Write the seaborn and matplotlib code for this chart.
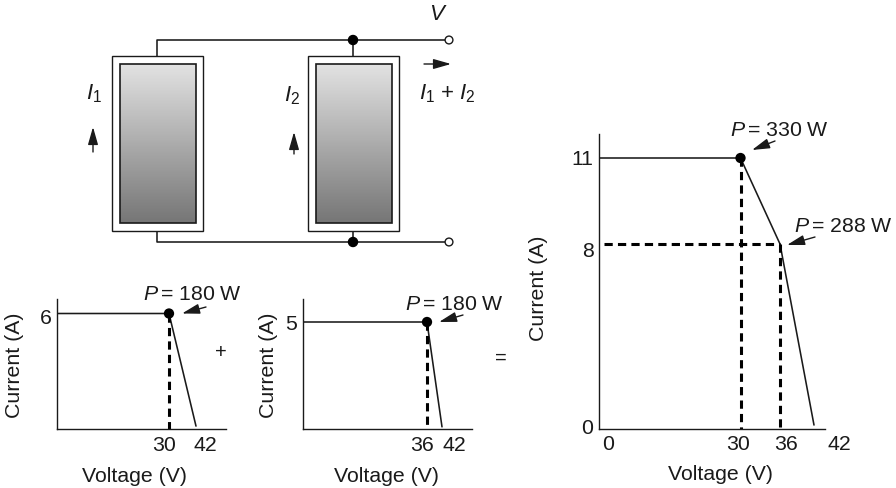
import numpy as np
import matplotlib
matplotlib.use('Agg')
import matplotlib.pyplot as plt
import matplotlib.transforms as mtrans
from matplotlib.patches import Rectangle, Circle
import seaborn as sns

W, H = 896, 489
INK = '#1a1a1a'

# left module
left_volts = [0, 30, 42]
left_amps = [6, 6, 0.15]
left_mpp = (30, 6)
left_xticks = [30, 42]
left_yticks = [6]

# middle module
mid_volts = [0, 36, 42]
mid_amps = [5, 5, 0.1]
mid_mpp = (36, 5)
mid_xticks = [36, 42]
mid_yticks = [5]

# parallel combination
sum_volts = [0, 30, 36, 42]
sum_amps = [11, 11, 8, 0.15]
sum_mpp = (30, 11)
sum_knee = (36, 8)
sum_xticks = [0, 30, 36, 42]
sum_yticks = [0, 8, 11]

sns.set_style('white')
plt.rcParams['font.family'] = ['Liberation Sans', 'DejaVu Sans']
plt.rcParams['font.size'] = 15.3
plt.rcParams['text.color'] = INK
plt.rcParams['mathtext.fontset'] = 'custom'
plt.rcParams['mathtext.rm'] = 'Liberation Sans'
plt.rcParams['mathtext.it'] = 'Liberation Sans:italic'

fig = plt.figure(figsize=(W / 100, H / 100), dpi=100)

# full figure layer in pixel coords for the circuit and the callouts
bg = fig.add_axes([0, 0, 1, 1])
bg.axis('off')


def wire(xs, ys):
    bg.plot(xs, ys, color=INK, lw=1.15, solid_capstyle='butt')


def small_arrow(tail, tip, lw=1.0):
    bg.annotate('', xy=tip, xytext=tail,
                arrowprops=dict(arrowstyle='-|>,head_length=0.7,head_width=0.2',
                                color=INK, lw=lw, shrinkA=0, shrinkB=0))


gradient = np.linspace(0, 1, 128).reshape(-1, 1)
panel_cmap = matplotlib.colors.LinearSegmentedColormap.from_list('panel', ['#e2e2e2', '#767676'])
for x0, x1 in [(112, 203), (308, 399)]:
    bg.add_patch(Rectangle((x0, 57), x1 - x0, 175, fill=False, ec=INK, lw=1.0))
    bg.imshow(gradient, extent=(x0 + 7.5, x1 - 7.5, 224, 65), cmap=panel_cmap,
              aspect='auto', origin='upper')
    bg.add_patch(Rectangle((x0 + 7.5, 65), x1 - x0 - 15, 159, fill=False, ec=INK, lw=1.2))

wire([157, 157, 445], [57, 41, 41])
wire([157, 157, 445], [232, 243, 243])
wire([353, 353], [41, 57])
wire([353, 353], [232, 243])
for y in [41, 243]:
    bg.add_patch(Circle((353, y), 4.5, color='black', zorder=4))
    bg.add_patch(Circle((449, y), 3.9, fc='white', ec=INK, lw=1.0, zorder=4))

small_arrow((424, 65), (451, 65))
small_arrow((93, 153), (93, 128))
small_arrow((294, 155), (294, 133))
small_arrow((206, 308), (182, 314.5))
small_arrow((463, 316), (439, 323))
small_arrow((775, 142), (752, 151))
small_arrow((815, 238), (787, 246))

bg.text(438, 15, r'$\mathit{V}$', ha='center', va='center', fontsize=16)
bg.text(94, 94, r'$\mathit{I}_1$', ha='center', va='center', fontsize=16)
bg.text(292, 96, r'$\mathit{I}_2$', ha='center', va='center', fontsize=16)
bg.text(447, 94, r'$\mathit{I}_1$ + $\mathit{I}_2$', ha='center', va='center', fontsize=16)
bg.text(221, 353, '+', ha='center', va='center', fontsize=14.5)
bg.text(501, 358, '=', ha='center', va='center', fontsize=14.5)
bg.text(192.5, 295, r'$\mathit{P}\,$= 180 W', ha='center', va='center')
bg.text(454, 304, r'$\mathit{P}\,$= 180 W', ha='center', va='center')
bg.text(779, 130, r'$\mathit{P}\,$= 330 W', ha='center', va='center')
bg.text(843.5, 226, r'$\mathit{P}\,$= 288 W', ha='center', va='center')
bg.set_xlim(0, W)
bg.set_ylim(H, 0)


def schematic_axes(x_data, x_px, y_data, y_px):
    # the axes in the source are hand drawn, so each one is piecewise linear
    y_up = [H - p for p in y_px]
    pos = [x_px[0] / W, y_up[0] / H, (x_px[-1] - x_px[0]) / W, (y_up[-1] - y_up[0]) / H]
    ax = fig.add_axes(pos, facecolor='none')
    ax.set_xscale('function', functions=(lambda v: np.interp(v, x_data, x_px),
                                         lambda p: np.interp(p, x_px, x_data)))
    ax.set_yscale('function', functions=(lambda v: np.interp(v, y_data, y_up),
                                         lambda p: np.interp(p, y_up, y_data)))
    return ax


def draw_curve(ax, volts, amps, x_lim, y_lim):
    sns.lineplot(x=volts, y=amps, ax=ax, color=INK, lw=1.15, sort=False,
                 estimator=None, errorbar=None)
    ax.set_xlim(*x_lim)
    ax.set_ylim(*y_lim)
    sns.despine(ax=ax)
    for side in ['left', 'bottom']:
        ax.spines[side].set_linewidth(1.0)
        ax.spines[side].set_color(INK)


def drop_line(ax, xs, ys):
    sns.lineplot(x=xs, y=ys, ax=ax, color='black', lw=2.2, sort=False, estimator=None,
                 errorbar=None, linestyle=(0, (2.7, 1.7)), dash_capstyle='butt', clip_on=False)


def mark(ax, point):
    sns.scatterplot(x=[point[0]], y=[point[1]], ax=ax, color='black', s=55, zorder=5,
                    clip_on=False, edgecolor='none')


def finish(ax, xticks, yticks, x_shift, y_shift, xlabel_at, ylabel_at):
    ax.set_xticks(xticks, [str(v) for v in xticks])
    ax.set_yticks(yticks, [str(v) for v in yticks])
    ax.minorticks_off()
    ax.tick_params(length=0, labelsize=15.3, labelcolor=INK, pad=4)
    for lab, (dx, dy) in zip(ax.get_xticklabels(), x_shift):
        lab.set_transform(lab.get_transform() + mtrans.Affine2D().translate(dx, -dy))
    for lab, (dx, dy) in zip(ax.get_yticklabels(), y_shift):
        lab.set_transform(lab.get_transform() + mtrans.Affine2D().translate(dx, -dy))
    ax.set_xlabel('Voltage (V)', fontsize=15.3, color=INK, va='center', ha='center')
    ax.set_ylabel('Current (A)', fontsize=15.3, color=INK, va='center', ha='center')
    ax.xaxis.set_label_coords(xlabel_at[0], xlabel_at[1], transform=bg.transData)
    ax.yaxis.set_label_coords(ylabel_at[0], ylabel_at[1], transform=bg.transData)


# left module
ax1 = schematic_axes([0, 30, 42, 50], [57, 169, 196, 226], [0, 6, 7], [430, 314.5, 300])
draw_curve(ax1, left_volts, left_amps, (0, 50), (0, 7))
drop_line(ax1, [left_mpp[0], left_mpp[0]], [left_mpp[1], 0])
mark(ax1, left_mpp)
finish(ax1, left_xticks, left_yticks, [(-5, 0), (9, 0)], [(0, 1.5)], (135, 477), (15, 365))

# middle module
ax2 = schematic_axes([0, 36, 42, 50], [303, 427, 442, 472], [0, 5, 6.6], [430, 323, 300])
draw_curve(ax2, mid_volts, mid_amps, (0, 50), (0, 6.6))
drop_line(ax2, [mid_mpp[0], mid_mpp[0]], [mid_mpp[1], 0])
mark(ax2, mid_mpp)
finish(ax2, mid_xticks, mid_yticks, [(-5, 0), (12, 0)], [(0, 0)], (386, 477), (268, 365))

# combined
ax3 = schematic_axes([0, 30, 36, 42, 46], [599, 740.5, 780, 814, 825],
                     [0, 8, 11, 13], [429.5, 245, 159, 135])
draw_curve(ax3, sum_volts, sum_amps, (0, 46), (0, 13))
drop_line(ax3, [sum_mpp[0], sum_mpp[0]], [sum_mpp[1], 0])
drop_line(ax3, [sum_knee[0], sum_knee[0]], [sum_knee[1], 0])
drop_line(ax3, [1, sum_knee[0]], [sum_knee[1], sum_knee[1]])
mark(ax3, sum_mpp)
finish(ax3, sum_xticks, sum_yticks, [(9, 0), (-2.5, 0), (6, 0), (25, 0)],
       [(0, -2.5), (0, 5), (0, -1)], (721, 474), (539, 288))

fig.savefig('out.png', dpi=100)
